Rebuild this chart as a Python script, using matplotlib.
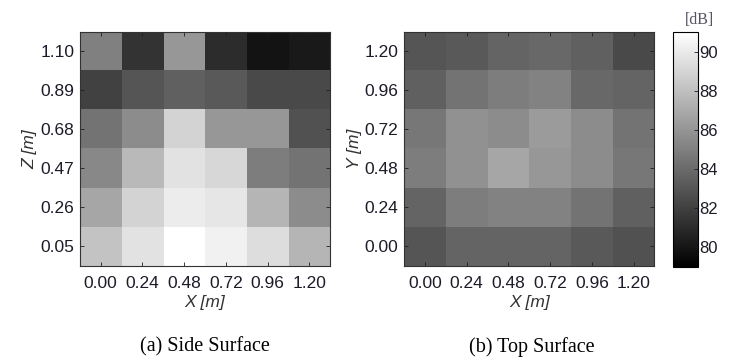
import matplotlib
matplotlib.use("Agg")
import matplotlib.pyplot as plt
import numpy as np

# tick labels
x_labels = ["0.00", "0.24", "0.48", "0.72", "0.96", "1.20"]
z_labels = ["1.10", "0.89", "0.68", "0.47", "0.26", "0.05"]  # top -> bottom
y_labels = ["1.20", "0.96", "0.72", "0.48", "0.24", "0.00"]  # top -> bottom

# side surface levels [dB], rows top -> bottom
side = [
    [85.0, 81.4, 86.1, 81.1, 79.9, 80.2],
    [82.1, 83.0, 83.5, 83.2, 82.5, 82.5],
    [84.4, 85.6, 88.9, 86.1, 86.1, 82.8],
    [85.4, 87.7, 89.6, 89.1, 84.9, 84.4],
    [86.8, 88.9, 90.1, 89.8, 87.5, 85.6],
    [88.2, 89.6, 91.0, 90.3, 89.4, 87.5],
]

# top surface levels [dB], rows top -> bottom
top = [
    [83.0, 83.2, 83.7, 83.9, 83.5, 82.5],
    [83.5, 84.4, 84.9, 85.1, 83.9, 83.7],
    [84.6, 85.8, 85.6, 86.3, 85.6, 84.4],
    [84.9, 85.8, 86.8, 86.1, 85.6, 84.6],
    [83.7, 84.9, 85.1, 85.1, 84.4, 83.5],
    [83.0, 83.7, 83.7, 83.7, 83.2, 82.8],
]

cbar_ticks = [80, 82, 84, 86, 88, 90]
vmin, vmax = 79, 91

plt.rcParams['font.family'] = ['Liberation Sans', 'DejaVu Sans']

fig = plt.figure(figsize=(7.32, 3.58), dpi=100)
ax1 = fig.add_axes([0.109, 0.257, 0.342, 0.654])
ax2 = fig.add_axes([0.552, 0.257, 0.342, 0.654])
cax = fig.add_axes([0.919, 0.254, 0.034, 0.656])

def heat(ax, data, ylabs, ylabel):
    im = ax.imshow(np.array(data), cmap='gray', vmin=vmin, vmax=vmax, aspect='auto',
                   interpolation='nearest')
    ax.set_xticks(range(len(x_labels)))
    ax.set_xticklabels(x_labels)
    ax.set_yticks(range(len(ylabs)))
    ax.set_yticklabels(ylabs)
    ax.tick_params(direction='in', length=3, width=0.6, top=True, right=True,
                   labelsize=12.5, colors='#1c1c28', pad=4)
    ax.tick_params(axis='x', pad=7)
    ax.set_xlabel("X [m]", fontsize=12.5, style='italic', color='#333333', labelpad=3)
    ax.set_ylabel(ylabel, fontsize=12.5, style='italic', color='#333333', labelpad=2)
    for s in ax.spines.values():
        s.set_linewidth(0.8)
        s.set_color('#333333')
    return im

im = heat(ax1, side, z_labels, "Z [m]")
heat(ax2, top, y_labels, "Y [m]")

cb = fig.colorbar(im, cax=cax, ticks=cbar_ticks)
cb.ax.tick_params(direction='in', length=3, width=0.6, labelsize=12, colors='#1c1c28', pad=1)
cb.outline.set_linewidth(0.8)
fig.text(0.955, 0.944, "[dB]", ha='center', va='center', fontsize=11.5,
         family='Liberation Serif', color='#555566')

fig.text(0.280, 0.031, "(a) Side Surface", ha='center', va='center', fontsize=14.5,
         family='Liberation Serif')
fig.text(0.727, 0.031, "(b) Top Surface", ha='center', va='center', fontsize=14.5,
         family='Liberation Serif')

plt.savefig("out.png", dpi=100)
